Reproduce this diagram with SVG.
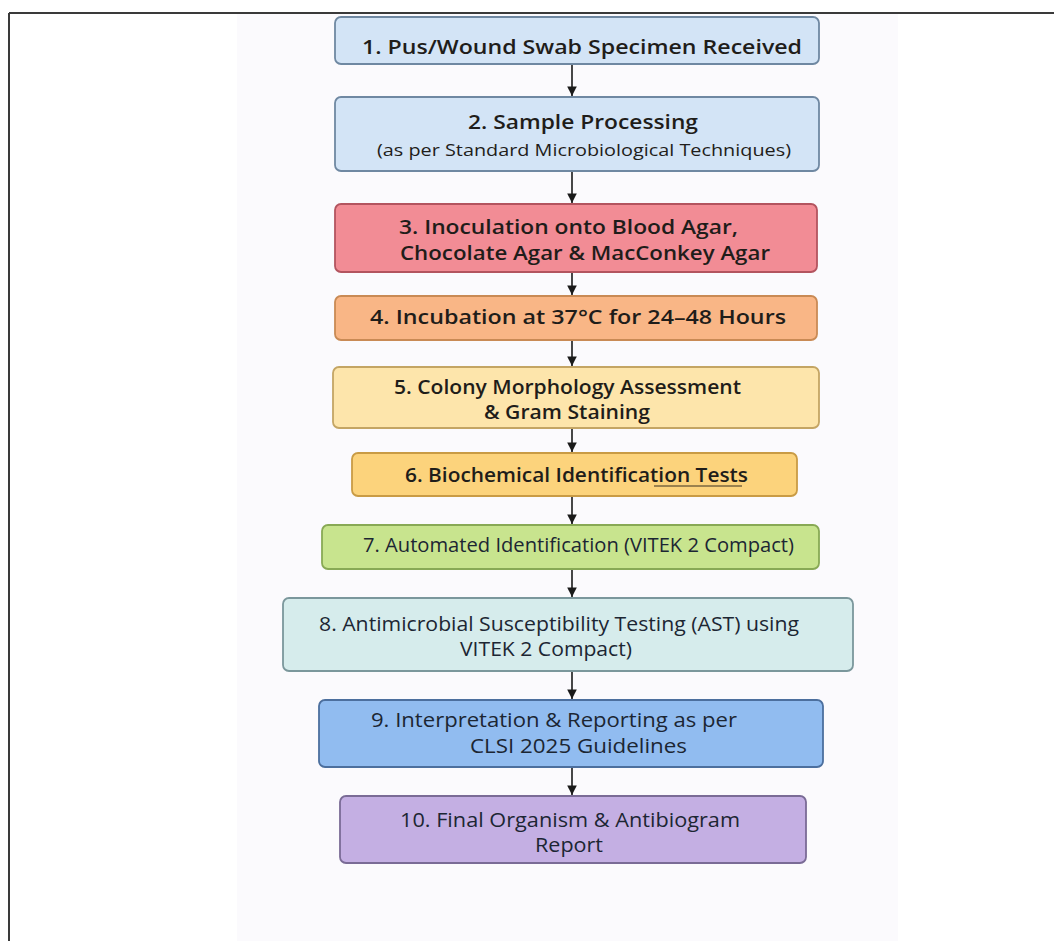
<svg xmlns="http://www.w3.org/2000/svg" width="1054" height="941" viewBox="0 0 1054 941">
<style>
.box{stroke-width:1.8}
.t{font-family:"Open Sans","Noto Sans","Liberation Sans",sans-serif;font-size:20px;fill:#1f1d1a}
.b{font-weight:600}
.r{font-weight:400;fill:#1c2633;font-size:19.5px}
.sub{font-size:17px;font-weight:400}
.conn{stroke:#1a1a1a;stroke-width:1.6;fill:none}
</style>
<defs>
<marker id="ah" viewBox="0 0 10 10" refX="10" refY="5" markerWidth="6" markerHeight="6" orient="auto" markerUnits="strokeWidth">
<path d="M0,0 L10,5 L0,10 z" fill="#1a1a1a"/>
</marker>
</defs>
<rect x="0" y="0" width="1054" height="941" fill="#ffffff"/>
<rect x="237" y="14" width="661" height="927" fill="#fbfafd"/>
<line x1="9" y1="13" x2="1054" y2="13" stroke="#3a3a3a" stroke-width="2"/>
<line x1="9" y1="13" x2="9" y2="941" stroke="#3a3a3a" stroke-width="2"/>

<g id="connectors">
<line class="conn" x1="572" y1="64" x2="572" y2="96" marker-end="url(#ah)"/>
<line class="conn" x1="572" y1="171" x2="572" y2="203" marker-end="url(#ah)"/>
<line class="conn" x1="572" y1="272" x2="572" y2="295" marker-end="url(#ah)"/>
<line class="conn" x1="572" y1="340" x2="572" y2="366" marker-end="url(#ah)"/>
<line class="conn" x1="572" y1="428" x2="572" y2="452" marker-end="url(#ah)"/>
<line class="conn" x1="572" y1="496" x2="572" y2="524" marker-end="url(#ah)"/>
<line class="conn" x1="572" y1="569" x2="572" y2="597" marker-end="url(#ah)"/>
<line class="conn" x1="572" y1="671" x2="572" y2="699" marker-end="url(#ah)"/>
<line class="conn" x1="572" y1="767" x2="572" y2="795" marker-end="url(#ah)"/>
</g>

<g id="node1">
<rect class="box" x="335" y="17" width="484" height="47" rx="6" fill="#d3e4f6" stroke="#6f88a2"/>
<text class="t b" x="362" y="54" textLength="440" lengthAdjust="spacingAndGlyphs">1. Pus/Wound Swab Specimen Received</text>
</g>
<g id="node2">
<rect class="box" x="335" y="97" width="484" height="74" rx="6" fill="#d3e4f6" stroke="#6f88a2"/>
<text class="t b" x="468" y="129" textLength="230" lengthAdjust="spacingAndGlyphs">2. Sample Processing</text>
<text class="t sub" x="377" y="156" textLength="414" lengthAdjust="spacingAndGlyphs">(as per Standard Microbiological Techniques)</text>
</g>
<g id="node3">
<rect class="box" x="335" y="204" width="482" height="68" rx="6" fill="#f28c95" stroke="#b3545f"/>
<text class="t b" x="399" y="234" textLength="339" lengthAdjust="spacingAndGlyphs">3. Inoculation onto Blood Agar,</text>
<text class="t b" x="400" y="260" textLength="370" lengthAdjust="spacingAndGlyphs">Chocolate Agar &amp; MacConkey Agar</text>
</g>
<g id="node4">
<rect class="box" x="335" y="296" width="482" height="44" rx="6" fill="#f9b686" stroke="#c98a55"/>
<text class="t b" x="370" y="324" textLength="416" lengthAdjust="spacingAndGlyphs">4. Incubation at 37°C for 24–48 Hours</text>
</g>
<g id="node5">
<rect class="box" x="333" y="367" width="486" height="61" rx="6" fill="#fde5ab" stroke="#c4a564"/>
<text class="t b" x="394" y="394" textLength="347" lengthAdjust="spacingAndGlyphs">5. Colony Morphology Assessment</text>
<text class="t b" x="484" y="419" textLength="166" lengthAdjust="spacingAndGlyphs">&amp; Gram Staining</text>
</g>
<g id="node6">
<rect class="box" x="352" y="453" width="445" height="43" rx="6" fill="#fcd37c" stroke="#c99b45"/>
<text class="t b" x="405" y="482" textLength="343" lengthAdjust="spacingAndGlyphs">6. Biochemical Identification Tests</text>
<line x1="654" y1="486" x2="742" y2="486" stroke="#3a3020" stroke-width="1"/>
</g>
<g id="node7">
<rect class="box" x="322" y="525" width="497" height="44" rx="6" fill="#c8e48e" stroke="#88a955"/>
<text class="t r" x="363" y="552" textLength="431" lengthAdjust="spacingAndGlyphs">7. Automated Identification (VITEK 2 Compact)</text>
</g>
<g id="node8">
<rect class="box" x="283" y="598" width="570" height="73" rx="6" fill="#d6ecec" stroke="#7b979c"/>
<text class="t r" x="319" y="631" textLength="480" lengthAdjust="spacingAndGlyphs">8. Antimicrobial Susceptibility Testing (AST) using</text>
<text class="t r" x="460" y="656" textLength="172" lengthAdjust="spacingAndGlyphs">VITEK 2 Compact)</text>
</g>
<g id="node9">
<rect class="box" x="319" y="700" width="504" height="67" rx="6" fill="#91bcf0" stroke="#4c6f9e"/>
<text class="t r" x="371" y="727" textLength="366" lengthAdjust="spacingAndGlyphs">9. Interpretation &amp; Reporting as per</text>
<text class="t r" x="470" y="753" textLength="217" lengthAdjust="spacingAndGlyphs">CLSI 2025 Guidelines</text>
</g>
<g id="node10">
<rect class="box" x="340" y="796" width="466" height="67" rx="6" fill="#c4afe3" stroke="#7a6b96"/>
<text class="t r" x="400" y="827" textLength="340" lengthAdjust="spacingAndGlyphs">10. Final Organism &amp; Antibiogram</text>
<text class="t r" x="535" y="852" textLength="68" lengthAdjust="spacingAndGlyphs">Report</text>
</g>
</svg>
